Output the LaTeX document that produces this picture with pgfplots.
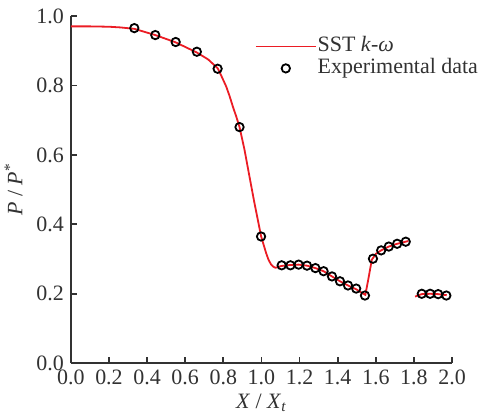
\documentclass[border=0pt]{standalone}
\usepackage{fontspec}
\setmainfont{Liberation Serif}
\usepackage{pgfplots}
\pgfplotsset{compat=1.18}

\definecolor{simred}{RGB}{235,28,36}
\definecolor{axgray}{RGB}{50,50,50}

\pgfplotsset{
  linelegend/.style={legend image code/.code={\draw[##1] (0pt,0pt) -- (30pt,0pt);}},
  marklegend/.style={legend image code/.code={\draw[##1] plot coordinates {(15pt,0pt)};}},
}

\begin{document}
\begin{tikzpicture}
  \begin{axis}[
    scale only axis,
    width=191pt, height=174pt,
    xmin=0, xmax=2, ymin=0, ymax=1,
    xtick distance=0.2, ytick distance=0.2,
    axis x line*=bottom, axis y line*=left,
    axis line style={axgray, line width=0.9pt, -},
    tick style={axgray, line width=0.9pt},
    tick align=inside,
    major tick length=3pt,
    /pgf/number format/assume math mode=true,
    /pgf/number format/fixed,
    /pgf/number format/fixed zerofill,
    /pgf/number format/precision=1,
    tick label style={font=\fontsize{11}{12}\selectfont, text=axgray},
    label style={font=\fontsize{11}{12}\selectfont, text=axgray},
    xlabel={\textit{X} / \textit{X}\textsubscript{\textit{t}}},
    xlabel style={yshift=2.5pt},
    ylabel={\textit{P} / \textit{P}\textsuperscript{*}},
    legend cell align=left,
    legend style={
      at={(0.482,0.945)}, anchor=north west,
      draw=none, fill=none, inner sep=0pt, row sep=0pt,
      nodes={inner sep=0.5pt, text height=7.5pt, text depth=2.5pt,
             font=\fontsize{11}{12}\selectfont, text=axgray},
    },
  ]

    % simulation, first segment
    \addplot[simred, line width=0.9pt, linelegend] coordinates {
      (0.000,0.970) (0.100,0.970) (0.200,0.969) (0.260,0.967)
      (0.333,0.963) (0.443,0.945) (0.550,0.924) (0.660,0.895)
      (0.720,0.875) (0.771,0.849) (0.790,0.827) (0.815,0.797)
      (0.833,0.769) (0.850,0.739) (0.868,0.710) (0.885,0.680)
      (0.911,0.615) (0.937,0.538) (0.963,0.462) (0.998,0.366)
      (1.012,0.340) (1.024,0.318) (1.037,0.298) (1.051,0.284)
      (1.062,0.278) (1.073,0.275) (1.088,0.277) (1.103,0.280)
      (1.152,0.283) (1.195,0.284) (1.239,0.281) (1.283,0.274)
      (1.326,0.265) (1.370,0.250) (1.412,0.236) (1.454,0.224)
      (1.497,0.213) (1.535,0.200) (1.545,0.197) (1.560,0.240)
      (1.579,0.298) (1.600,0.315) (1.628,0.325) (1.668,0.336)
      (1.712,0.344) (1.771,0.352)
    };
    \addlegendentry{SST \textit{k}-\textit{ω}}

    % experiment
    \addplot[only marks, mark=o, mark size=2.1pt,
      mark options={black, line width=0.9pt}, marklegend] coordinates {
      (0.333,0.965) (0.443,0.945) (0.550,0.925) (0.661,0.897)
      (0.770,0.848) (0.885,0.680) (0.998,0.365)
      (1.106,0.282) (1.152,0.282) (1.195,0.284) (1.239,0.281)
      (1.283,0.274) (1.326,0.265) (1.370,0.250) (1.412,0.236)
      (1.454,0.224) (1.497,0.215) (1.543,0.195)
      (1.585,0.301) (1.628,0.325) (1.668,0.336) (1.712,0.344)
      (1.757,0.350)
      (1.841,0.200) (1.885,0.200) (1.927,0.199) (1.970,0.195)
    };
    \addlegendentry{Experimental data}

    % simulation, second segment
    \addplot[simred, line width=0.9pt, forget plot] coordinates {
      (1.806,0.192) (1.841,0.199) (1.885,0.200) (1.927,0.199) (1.972,0.196)
    };

  \end{axis}
  \pgfresetboundingbox
  \path[use as bounding box] (-35.5pt,-26.5pt) rectangle (204.5pt,182pt);
\end{tikzpicture}
\end{document}
